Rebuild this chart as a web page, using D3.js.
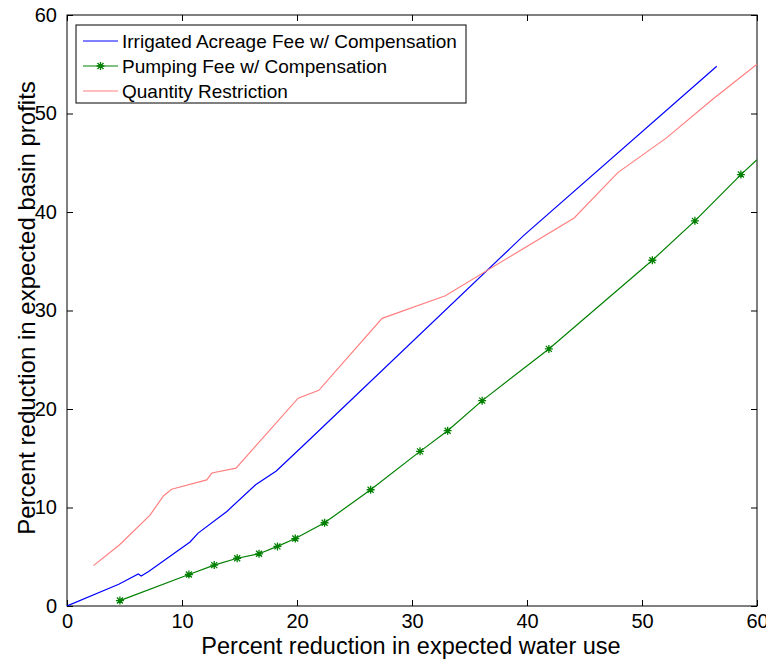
<!DOCTYPE html>
<html>
<head>
<meta charset="utf-8">
<script src="https://cdn.jsdelivr.net/npm/d3@7"></script>
<style>
  body { margin: 0; background: #fff; }
  svg text { font-family: Arial, "Liberation Sans", sans-serif; fill: #000; }
</style>
</head>
<body>
<div id="chart"></div>
<script>
// chart size, same as the window
const WIDTH = 766,
      HEIGHT = 660;
const margin = { top: 15, right: 9, bottom: 54, left: 67 };

// values: [water use reduction %, profit reduction %]
const acreageFee = [
  [0, 0], [4.5, 2.2], [6.2, 3.25], [6.45, 3.05], [7.1, 3.5], [10.7, 6.5],
  [11.4, 7.4], [13.9, 9.6], [16.4, 12.3], [18.2, 13.7], [21.1, 16.9],
  [39.7, 37.6], [56.5, 54.8]
];
const pumpingFee = [
  [4.6, 0.55], [10.6, 3.2], [12.8, 4.15], [14.8, 4.85], [16.7, 5.3], [18.3, 6.05],
  [19.85, 6.85], [22.4, 8.45], [26.4, 11.8], [30.7, 15.7], [33.1, 17.8],
  [36.1, 20.85], [41.9, 26.1], [50.9, 35.1], [54.6, 39.1], [58.6, 43.8], [60, 45.3]
];
const quantityRestriction = [
  [2.3, 4.1], [4.55, 6.2], [7.2, 9.2], [8.4, 11.2], [9.1, 11.85], [12.15, 12.8],
  [12.6, 13.5], [14.7, 14.0], [20.1, 21.1], [21.9, 21.9], [27.4, 29.2],
  [32.9, 31.5], [44.1, 39.4], [47.9, 44.0], [52.1, 47.5], [56.2, 51.5], [60, 55]
];
const xTicks = [0, 10, 20, 30, 40, 50, 60];
const yTicks = [0, 10, 20, 30, 40, 50, 60];
const seriesNames = [
  "Irrigated Acreage Fee w/ Compensation",
  "Pumping Fee w/ Compensation",
  "Quantity Restriction"
];
const seriesColors = ["#0000ff", "#008000", "#ff8080"];

const w = WIDTH - margin.left - margin.right,
      h = HEIGHT - margin.top - margin.bottom;

let svg = d3.select("#chart")
    .append("svg")
    .attr("width", WIDTH)
    .attr("height", HEIGHT);

let g = svg.append("g")
    .attr("transform", `translate(${margin.left},${margin.top})`);

const x = d3.scaleLinear().domain([0, 60]).range([0, w]);
const y = d3.scaleLinear().domain([0, 60]).range([h, 0]);

// clip lines to the axes box
g.append("clipPath").attr("id", "plotClip")
    .append("rect").attr("width", w).attr("height", h);

// axes: ticks pointing inward on all four sides, like matlab
function styleAxis(sel) {
    sel.select(".domain").remove();
    sel.selectAll("line").attr("stroke", "#000");
    sel.selectAll("text").style("font-size", "20px");
}
g.append("g")
    .attr("transform", `translate(0,${h})`)
    .call(d3.axisBottom(x).tickValues(xTicks).tickSize(-6).tickPadding(8))
    .call(styleAxis);
g.append("g")
    .call(d3.axisTop(x).tickValues(xTicks).tickSize(-6).tickFormat(""))
    .call(styleAxis);
g.append("g")
    .call(d3.axisLeft(y).tickValues(yTicks).tickSize(-6).tickPadding(10))
    .call(styleAxis);
g.append("g")
    .attr("transform", `translate(${w},0)`)
    .call(d3.axisRight(y).tickValues(yTicks).tickSize(-6).tickFormat(""))
    .call(styleAxis);

g.append("rect")
    .attr("width", w)
    .attr("height", h)
    .attr("fill", "none")
    .attr("stroke", "#000")
    .attr("stroke-width", 1);

const line = d3.line().x(d => x(d[0])).y(d => y(d[1]));
const plot = g.append("g").attr("clip-path", "url(#plotClip)");

[acreageFee, pumpingFee, quantityRestriction].forEach((data, i) => {
    plot.append("path")
        .datum(data)
        .attr("fill", "none")
        .attr("stroke", seriesColors[i])
        .attr("stroke-width", 1.2)
        .attr("d", line);
});

// asterisk markers on the pumping fee series
const star = "M-4,0H4M0,-4V4M-3,-3L3,3M-3,3L3,-3";
plot.selectAll(".star")
    .data(pumpingFee.filter(d => d[0] < 60))
    .enter()
    .append("path")
    .attr("class", "star")
    .attr("transform", d => `translate(${x(d[0])},${y(d[1])})`)
    .attr("d", star)
    .attr("stroke", seriesColors[1])
    .attr("stroke-width", 1.3)
    .attr("fill", "none");

// axis titles
svg.append("text")
    .attr("x", 411)
    .attr("y", 654)
    .attr("text-anchor", "middle")
    .style("font-size", "23.5px")
    .text("Percent reduction in expected water use");
svg.append("text")
    .attr("transform", `translate(35,308) rotate(-90)`)
    .attr("text-anchor", "middle")
    .style("font-size", "24px")
    .text("Percent reduction in expected basin profits");

// legend
let legend = svg.append("g").attr("transform", "translate(76,25)");
legend.append("rect")
    .attr("width", 390)
    .attr("height", 78)
    .attr("fill", "#fff")
    .attr("stroke", "#000");
seriesNames.forEach((name, i) => {
    const rowY = 16 + i * 25;
    legend.append("line")
        .attr("x1", 7).attr("x2", 42)
        .attr("y1", rowY).attr("y2", rowY)
        .attr("stroke", seriesColors[i])
        .attr("stroke-width", 1.2);
    if (i === 1) {
        legend.append("path")
            .attr("transform", `translate(24.5,${rowY})`)
            .attr("d", star)
            .attr("stroke", seriesColors[i])
            .attr("stroke-width", 1.3);
    }
    legend.append("text")
        .attr("x", 46)
        .attr("y", rowY)
        .attr("dy", "0.35em")
        .style("font-size", "19px")
        .text(name);
});
</script>
</body>
</html>
